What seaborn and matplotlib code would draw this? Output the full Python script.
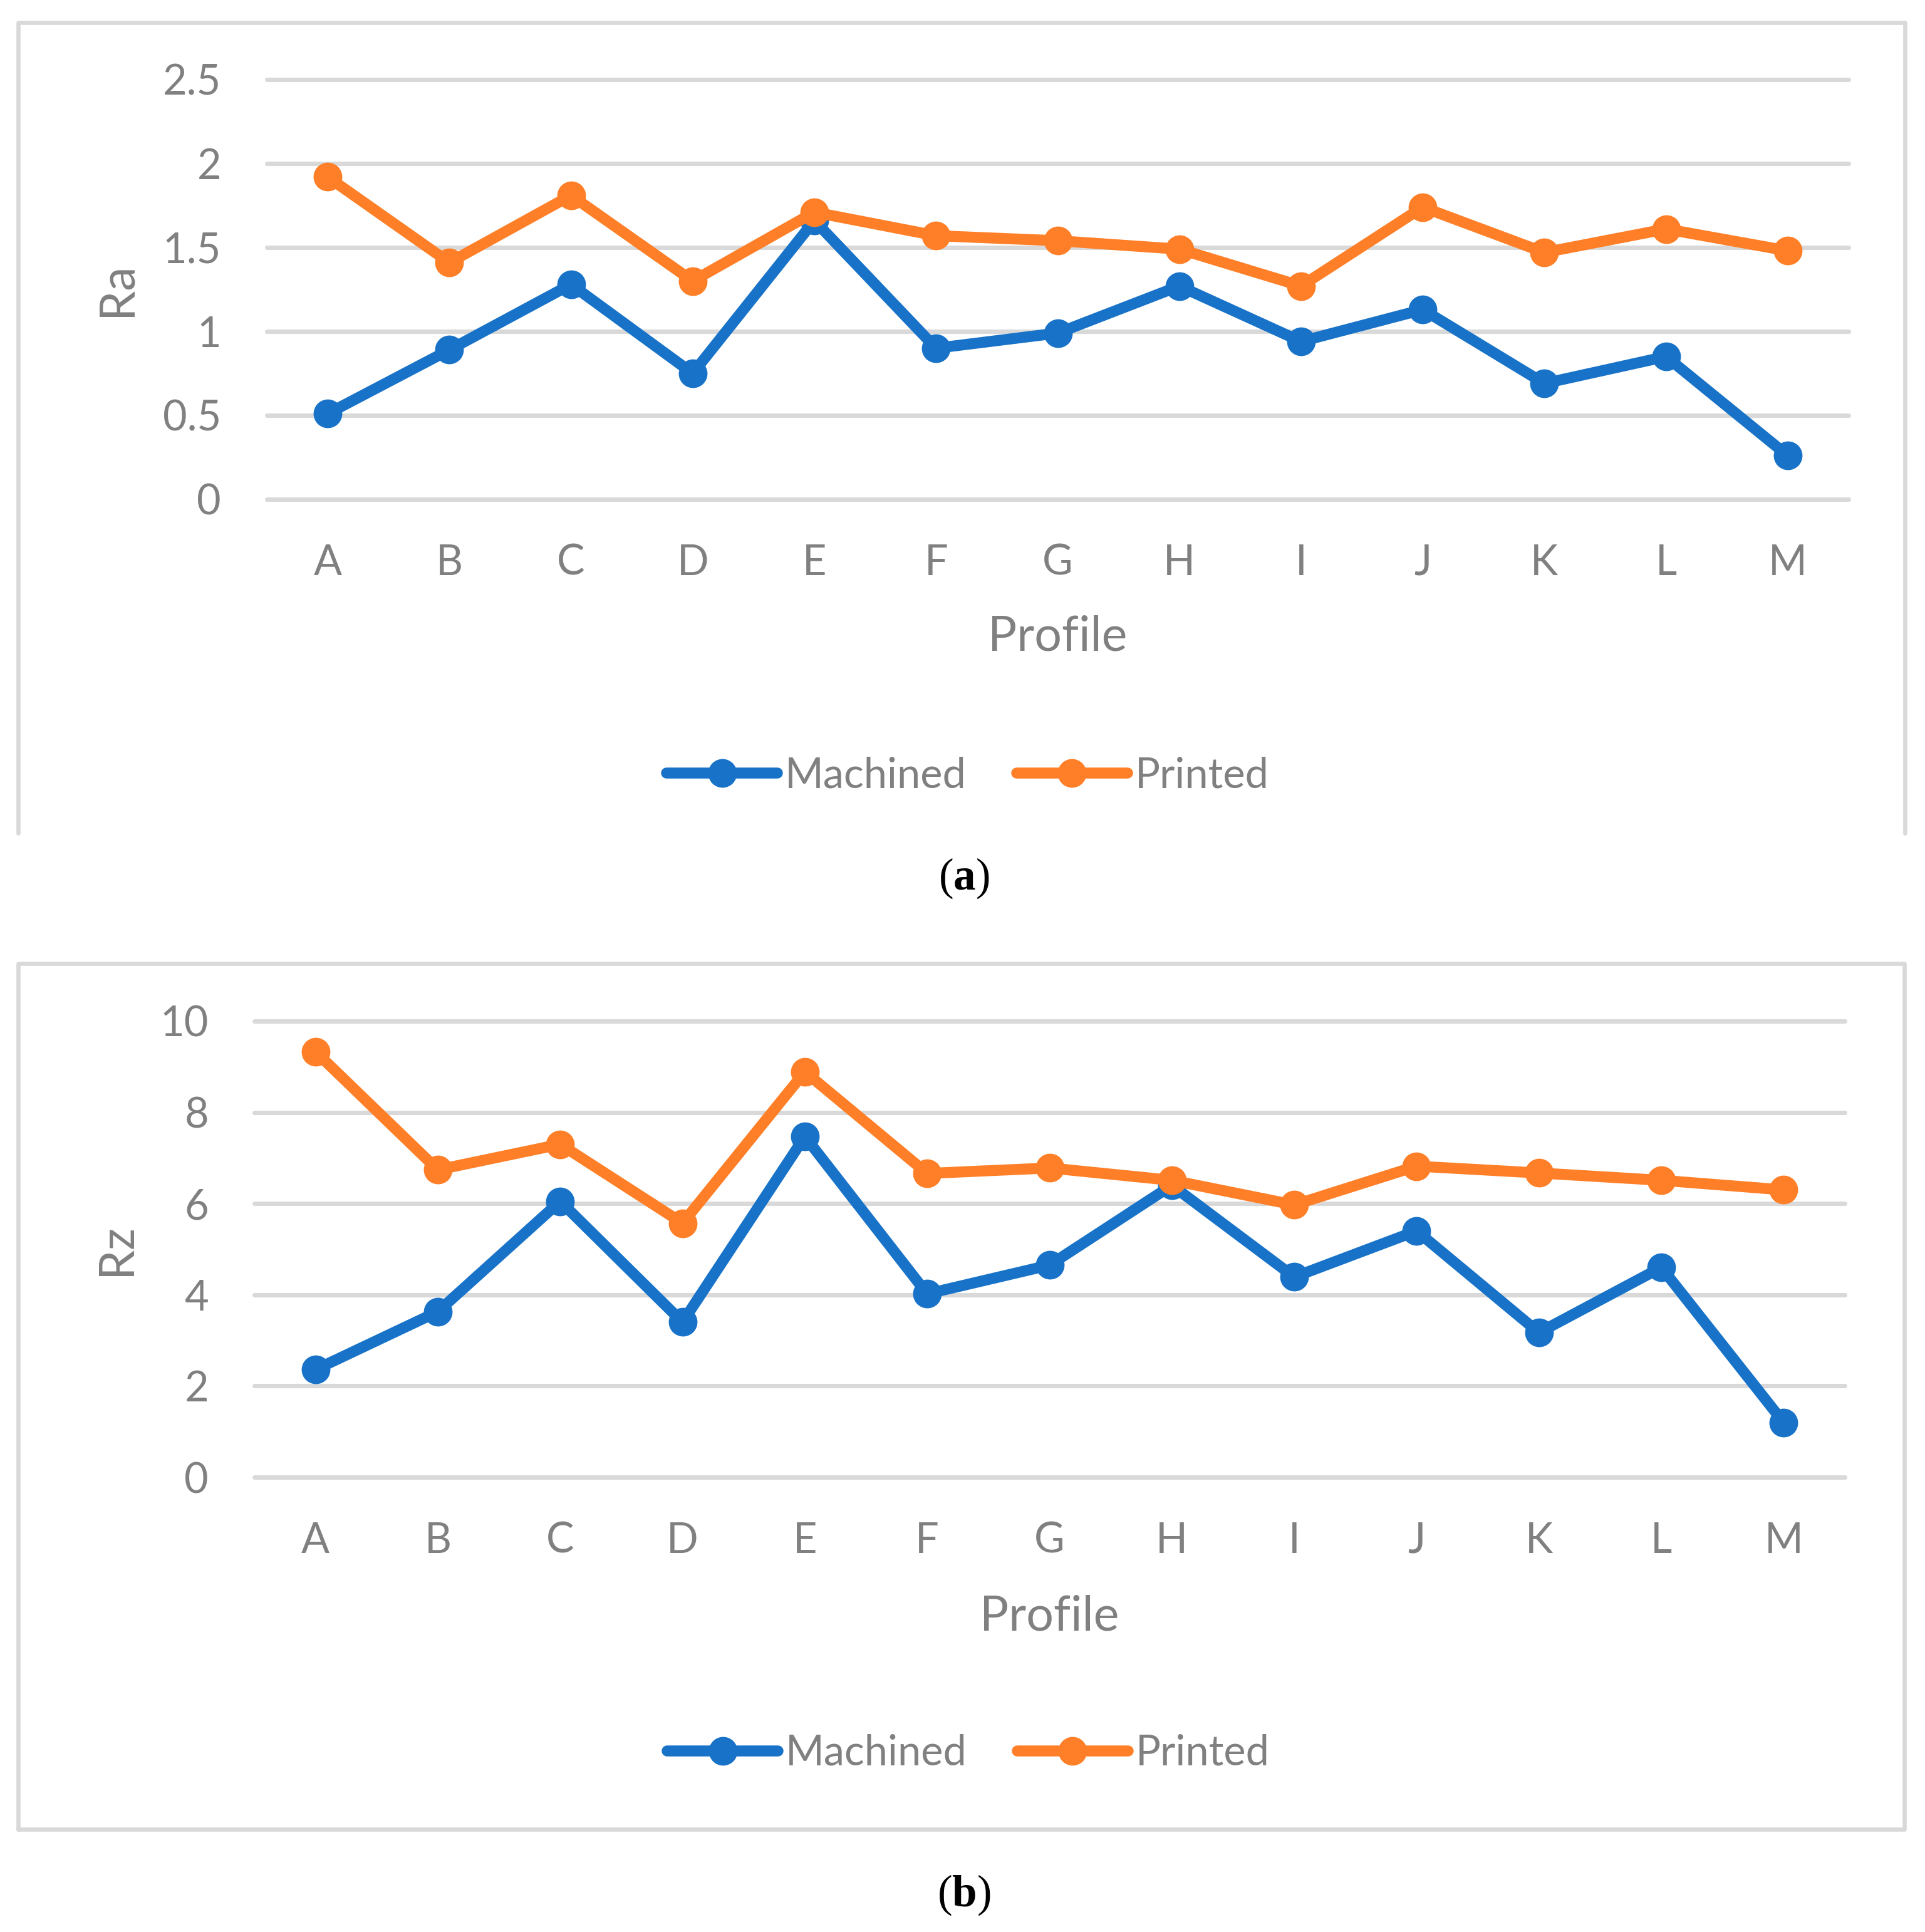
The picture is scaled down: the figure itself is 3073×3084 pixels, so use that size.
import matplotlib
matplotlib.use("Agg")
import matplotlib.pyplot as plt
import seaborn as sns
import pandas as pd
from matplotlib.lines import Line2D

profiles = list("ABCDEFGHIJKLM")
ra_machined = [0.51, 0.89, 1.28, 0.75, 1.66, 0.90, 0.99, 1.27, 0.94, 1.13, 0.69, 0.85, 0.26]
ra_printed = [1.92, 1.41, 1.81, 1.30, 1.71, 1.57, 1.54, 1.49, 1.27, 1.74, 1.47, 1.61, 1.48]
rz_machined = [2.36, 3.63, 6.05, 3.40, 7.47, 4.02, 4.65, 6.40, 4.39, 5.40, 3.17, 4.60, 1.20]
rz_printed = [9.33, 6.74, 7.30, 5.57, 8.89, 6.66, 6.78, 6.51, 5.97, 6.82, 6.67, 6.51, 6.30]
series = ["Machined", "Printed"]
ra_ticks = [0, 0.5, 1, 1.5, 2, 2.5]
ra_tick_labels = ["0", "0.5", "1", "1.5", "2", "2.5"]
rz_ticks = [0, 2, 4, 6, 8, 10]

sns.set_style("white")
plt.rcParams['font.family'] = ['Lato', 'DejaVu Sans']
plt.rcParams['mathtext.fontset'] = 'custom'
plt.rcParams['mathtext.rm'] = 'Liberation Serif'
plt.rcParams['mathtext.bf'] = 'Liberation Serif:bold'

GRAY = "#808080"
GRID = "#d9d9d9"
palette = {"Machined": "#1873c8", "Printed": "#fe7f27"}

W, H = 3073, 3084
fig = plt.figure(figsize=(W / 300, H / 300), dpi=300)


def long_df(machined, printed, col):
    return pd.DataFrame({
        "Profile": profiles * 2,
        col: machined + printed,
        "Type": ["Machined"] * len(profiles) + ["Printed"] * len(profiles),
    })


def panel(rect, df, col, ticks, labels, ylab_x, xlab_y, leg_xy):
    ax = fig.add_axes(rect)
    sns.lineplot(data=df, x="Profile", y=col, hue="Type", hue_order=series,
                 palette=palette, marker="o", markersize=11, markeredgewidth=0,
                 linewidth=4.2, legend=False, ax=ax)
    for ln in ax.lines:
        ln.set_solid_capstyle("round")
    ax.set_xlim(-0.5, len(profiles) - 0.5)
    ax.set_ylim(ticks[0], ticks[-1])
    ax.set_yticks(ticks)
    ax.set_yticklabels(labels)
    ax.grid(axis="y", color=GRID, linewidth=1.7)
    ax.grid(axis="x", visible=False)
    for g in ax.get_ygridlines():
        g.set_clip_on(False)
    sns.despine(ax=ax, left=True, bottom=True)
    ax.tick_params(axis="both", length=0, labelsize=16, labelcolor=GRAY)
    ax.tick_params(axis="x", pad=17)
    ax.tick_params(axis="y", pad=17.5)
    ax.set_xlabel("Profile", fontsize=18.5, color=GRAY)
    ax.set_ylabel(col, fontsize=18.5, color=GRAY)
    ax.xaxis.set_label_coords(0.5, xlab_y)
    ax.xaxis.label.set_va("center")
    ax.yaxis.set_label_coords(ylab_x, 0.5)
    ax.yaxis.label.set_va("center")
    leg = ax.legend(ax.lines[:2], series, loc="center", bbox_to_anchor=leg_xy,
                    bbox_transform=fig.transFigure, ncol=2, frameon=False,
                    fontsize=16, handlelength=2.65, handletextpad=0.18,
                    columnspacing=1.2, numpoints=1)
    for t in leg.get_texts():
        t.set_color(GRAY)
    return ax


df_ra = long_df(ra_machined, ra_printed, "Ra")
df_rz = long_df(rz_machined, rz_printed, "Rz")

panel([426 / W, 1 - 797 / H, 2525 / W, 670 / H], df_ra, "Ra",
      ra_ticks, ra_tick_labels, -0.0947, -0.328, (1545 / W, 1 - 1238 / H))
panel([406 / W, 1 - 2358 / H, 2539 / W, 728 / H], df_rz, "Rz",
      rz_ticks, [str(t) for t in rz_ticks], -0.0863, -0.306, (1546 / W, 1 - 2799 / H))


def fx(px):
    return px / W


def fy(py):
    return 1 - py / H


# chart frames
fig.add_artist(Line2D([fx(29), fx(29), fx(3041), fx(3041)],
                      [fy(1330), fy(36), fy(36), fy(1330)],
                      color=GRID, linewidth=1.6, transform=fig.transFigure))
fig.add_artist(Line2D([fx(29), fx(29), fx(3040), fx(3040), fx(29)],
                      [fy(2920), fy(1538), fy(1538), fy(2920), fy(2920)],
                      color=GRID, linewidth=1.6, transform=fig.transFigure))

# captions
fig.text(fx(1539), fy(1402), r"$\mathrm{(}\mathbf{a}\mathrm{)}$", ha="center", va="center",
         fontsize=17, color="black")
fig.text(fx(1539), fy(3025), r"$\mathrm{(}\mathbf{b}\mathrm{)}$", ha="center", va="center",
         fontsize=17, color="black")

fig.savefig("out.png", dpi=300, facecolor="white")
